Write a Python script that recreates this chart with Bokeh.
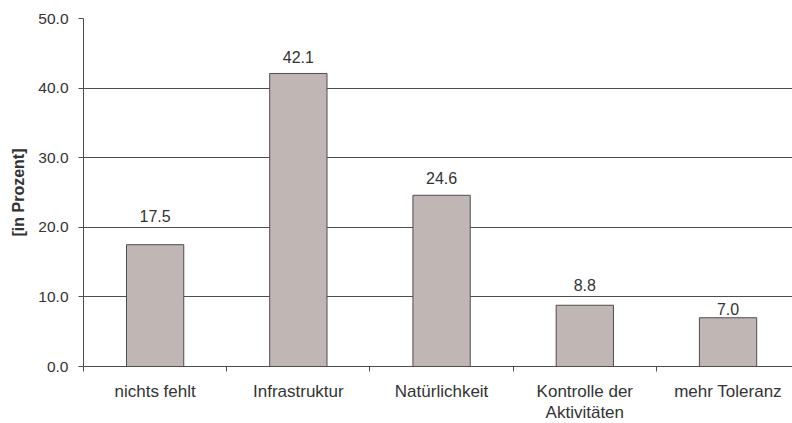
from bokeh.plotting import figure
from bokeh.models import Range1d, FixedTicker, PrintfTickFormatter, ColumnDataSource
from bokeh.core.properties import value
from bokeh.embed import file_html
from bokeh.resources import INLINE

categories = ["nichts fehlt", "Infrastruktur", "Natürlichkeit", "Kontrolle der\nAktivitäten", "mehr Toleranz"]
values = [17.5, 42.1, 24.6, 8.8, 7.0]
value_labels = ["17.5", "42.1", "24.6", "8.8", "7.0"]
y_ticks = [0, 10, 20, 30, 40, 50]

# style: label distance above bar top (pixels)
label_offset_px = [29, 16, 17, 20, 9]

FONT = "Liberation Sans"
TXT = "#333333"
LINE = "#4d4d4d"

n = len(categories)
centers = [i + 0.5 for i in range(n)]

p = figure(frame_width=709, frame_height=348, output_backend="svg", toolbar_location=None,
           x_range=Range1d(0, 4.95), y_range=Range1d(0, 50),
           min_border_left=83, min_border_right=0, min_border_top=18, min_border_bottom=44)
p.outline_line_color = None
p.background_fill_color = "white"
p.border_fill_color = "white"

src = ColumnDataSource(dict(x=centers, top=values, lab=value_labels,
                            yoff=[-o for o in label_offset_px]))

p.vbar(x="x", top="top", bottom=0, width=0.4, source=src,
       fill_color="#c0b7b4", line_color=LINE, line_width=1)

p.text(x="x", y="top", text="lab", source=src, y_offset="yoff",
       text_align="center", text_baseline="middle",
       text_font=value(FONT), text_font_size="16px", text_color=TXT)

# x axis
xa = p.xaxis[0]
xa.ticker = FixedTicker(ticks=centers, minor_ticks=list(range(n + 1)))
xa.major_label_overrides = {c: lab for c, lab in zip(centers, categories)}
xa.major_tick_line_color = None
xa.major_tick_out = 0
xa.major_tick_in = 0
xa.minor_tick_line_color = LINE
xa.minor_tick_out = 5
xa.minor_tick_in = 0
xa.major_label_standoff = 10
xa.major_label_text_font = FONT
xa.major_label_text_font_size = "17px"
xa.major_label_text_line_height = 1.15
xa.major_label_text_color = TXT
xa.axis_line_color = LINE

# y axis
ya = p.yaxis[0]
ya.ticker = FixedTicker(ticks=y_ticks)
ya.formatter = PrintfTickFormatter(format="%.1f")
ya.major_tick_out = 5
ya.major_tick_in = 0
ya.major_tick_line_color = LINE
ya.minor_tick_line_color = None
ya.major_label_standoff = 10
ya.major_label_text_font = FONT
ya.major_label_text_font_size = "15.5px"
ya.major_label_text_color = TXT
ya.axis_line_color = LINE
ya.axis_label = "[in Prozent]"
ya.axis_label_text_font = FONT
ya.axis_label_text_font_size = "16px"
ya.axis_label_text_font_style = "bold"
ya.axis_label_text_color = TXT
ya.axis_label_standoff = 8

p.xgrid.grid_line_color = None
p.ygrid.ticker = FixedTicker(ticks=y_ticks)
p.ygrid.grid_line_color = LINE
p.ygrid.grid_line_width = 1

open("out.html", "w").write(file_html(p, INLINE))
